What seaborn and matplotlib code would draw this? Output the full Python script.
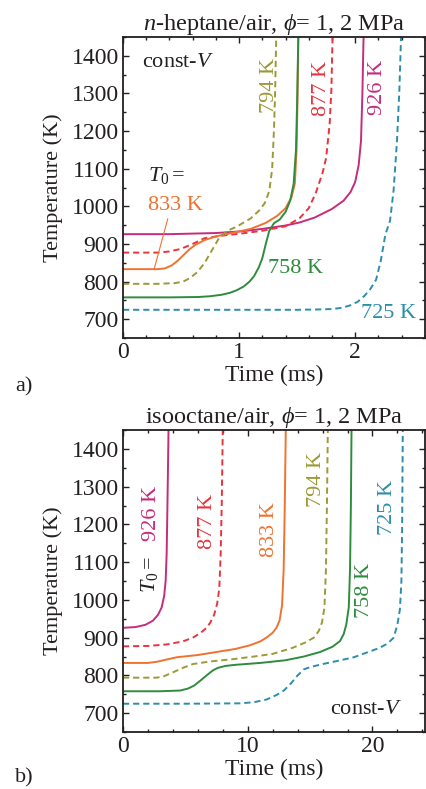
import numpy as np
import pandas as pd
import matplotlib
matplotlib.use("Agg")
import matplotlib.pyplot as plt
from matplotlib.ticker import MultipleLocator
import seaborn as sns

# ---------------- data: panel a, n-heptane/air ----------------
a_t926 = [0, 0.4, 0.8, 1.0, 1.2, 1.4, 1.52, 1.65, 1.8, 1.9, 1.96, 2.0, 2.03, 2.05, 2.062, 2.072]
a_T926 = [926, 926, 929, 933, 940, 949, 957, 970, 993, 1015, 1038, 1065, 1110, 1174, 1300, 1450]

a_t877 = [0, 0.3, 0.4, 0.5, 0.6, 0.7, 0.85, 1.0, 1.2, 1.4, 1.52, 1.6, 1.66, 1.72, 1.75, 1.78, 1.795, 1.805]
a_T877 = [877, 877, 880, 887, 900, 915, 922, 927, 935, 947, 968, 995, 1035, 1090, 1129, 1219, 1310, 1450]

a_t833 = [0, 0.3, 0.36, 0.42, 0.47, 0.52, 0.57, 0.62, 0.7, 0.8, 0.95, 1.1, 1.23, 1.33, 1.4, 1.45, 1.48, 1.495, 1.503, 1.51]
a_T833 = [833, 833, 835, 843, 855, 870, 885, 897, 910, 920, 930, 940, 956, 975, 995, 1023, 1060, 1150, 1280, 1450]

a_t794 = [0, 0.3, 0.45, 0.52, 0.58, 0.64, 0.7, 0.76, 0.83, 0.9, 0.98, 1.1, 1.17, 1.22, 1.26, 1.285, 1.3, 1.31, 1.32]
a_T794 = [794, 794, 796, 800, 810, 825, 848, 880, 917, 935, 946, 968, 988, 1008, 1040, 1100, 1200, 1300, 1450]

a_t758 = [0, 0.4, 0.65, 0.75, 0.85, 0.92, 0.98, 1.04, 1.09, 1.13, 1.17, 1.2, 1.23, 1.26, 1.3, 1.35, 1.4, 1.44, 1.47, 1.49, 1.5, 1.51]
a_T758 = [758, 758, 759, 761, 765, 770, 777, 787, 800, 815, 838, 862, 900, 935, 955, 965, 985, 1015, 1060, 1150, 1280, 1450]

a_t725 = [0, 0.5, 1.0, 1.5, 1.7, 1.8, 1.88, 1.95, 2.02, 2.08, 2.13, 2.18, 2.22, 2.26, 2.3, 2.33, 2.36, 2.38, 2.395]
a_T725 = [725, 725, 725, 725, 726, 727, 730, 736, 746, 762, 780, 805, 855, 925, 962, 1040, 1174, 1307, 1450]

# ---------------- data: panel b, isooctane/air ----------------
b_t926 = [0, 1.0, 1.8, 2.4, 2.8, 3.1, 3.3, 3.42, 3.5, 3.55, 3.6, 3.65]
b_T926 = [926, 928, 934, 945, 960, 980, 1010, 1050, 1120, 1220, 1330, 1450]

b_t877 = [0, 2.0, 3.5, 4.8, 5.6, 6.2, 6.7, 7.0, 7.3, 7.55, 7.72, 7.83, 7.92, 8.0]
b_T877 = [877, 878, 882, 890, 900, 912, 926, 940, 960, 990, 1030, 1120, 1260, 1450]

b_t833 = [0, 2.0, 2.7, 3.5, 4.3, 6.0, 7.5, 9.0, 10.2, 11.0, 11.5, 12.0, 12.3, 12.55, 12.75, 12.88, 12.97, 13.05]
b_T833 = [833, 833, 836, 842, 848, 854, 862, 870, 880, 890, 900, 913, 926, 945, 985, 1080, 1250, 1450]

b_t794 = [0, 2.7, 3.3, 4.0, 4.8, 5.6, 7.0, 8.8, 10.5, 12.0, 13.6, 14.6, 15.3, 15.7, 15.95, 16.15, 16.27, 16.35, 16.42]
b_T794 = [794, 794, 798, 808, 820, 830, 837, 843, 850, 857, 873, 887, 900, 918, 940, 980, 1080, 1250, 1450]

b_t758 = [0, 3.0, 4.6, 5.2, 5.7, 6.2, 6.7, 7.2, 7.6, 8.2, 9.0, 11.0, 13.0, 14.5, 15.8, 16.8, 17.4, 17.7, 17.9, 18.1, 18.2, 18.27, 18.32]
b_T758 = [758, 758, 760, 765, 773, 786, 800, 813, 820, 825, 828, 833, 840, 850, 862, 876, 891, 910, 935, 980, 1080, 1250, 1450]

b_t725 = [0, 5, 9.4, 10.5, 11.5, 12.3, 12.9, 13.5, 14.0, 14.5, 15.0, 16.0, 17.0, 18.5, 19.5, 20.5, 21.2, 21.7, 22.0, 22.2, 22.32, 22.38, 22.43]
b_T725 = [725, 725, 726, 729, 736, 748, 760, 780, 800, 816, 822, 830, 837, 848, 860, 872, 884, 900, 935, 975, 1050, 1200, 1450]

T0_labels = ["926 K", "877 K", "833 K", "794 K", "758 K", "725 K"]
colors = ["#C62B7C", "#E8343E", "#F0722F", "#9C9A36", "#2F8C3E", "#2C8EAA"]
dashed = [False, True, False, True, False, True]

panel_a = [(a_t926, a_T926), (a_t877, a_T877), (a_t833, a_T833),
           (a_t794, a_T794), (a_t758, a_T758), (a_t725, a_T725)]
panel_b = [(b_t926, b_T926), (b_t877, b_T877), (b_t833, b_T833),
           (b_t794, b_T794), (b_t758, b_T758), (b_t725, b_T725)]

# ---------------- style ----------------
sns.set_theme(style="ticks")
plt.rcParams["font.family"] = ["Liberation Serif", "DejaVu Serif"]
plt.rcParams["mathtext.fontset"] = "custom"
plt.rcParams["mathtext.rm"] = "Liberation Serif"
plt.rcParams["mathtext.it"] = "Liberation Serif:italic"
plt.rcParams["mathtext.bf"] = "Liberation Serif:bold"
plt.rcParams["text.color"] = "#231F20"
plt.rcParams["axes.labelcolor"] = "#231F20"

FS = 16        # annotations
FS_TICK = 17
FS_TITLE = 17.5

fig = plt.figure(figsize=(4.27, 7.89), dpi=100)
ax_a = fig.add_axes([0.288, 0.5716, 0.707, 0.3815])
ax_b = fig.add_axes([0.288, 0.0722, 0.707, 0.3828])


def draw_curves(ax, curves):
    for (t, T), lab, c, d in zip(curves, T0_labels, colors, dashed):
        df = pd.DataFrame({"t": t, "T": T})
        sns.lineplot(data=df, x="t", y="T", ax=ax, color=c, lw=1.4,
                     estimator=None, sort=False,
                     linestyle=(0, (3.2, 2.0)) if d else "-")


def style_axes(ax, xmax, xmajor, xminor):
    ax.set_xlim(0, xmax)
    ax.set_ylim(650, 1450)
    ax.xaxis.set_major_locator(MultipleLocator(xmajor))
    ax.xaxis.set_minor_locator(MultipleLocator(xminor))
    ax.yaxis.set_major_locator(MultipleLocator(100))
    ax.yaxis.set_minor_locator(MultipleLocator(50))
    ax.tick_params(which="both", direction="in", top=True, right=True,
                   color="#231F20", width=1.0, labelsize=FS_TICK, labelcolor="#231F20", pad=3)
    ax.tick_params(which="major", length=4.5)
    ax.tick_params(which="minor", length=2.5)
    for s in ax.spines.values():
        s.set_visible(True)
        s.set_linewidth(1.3)
        s.set_color("#231F20")
    ax.set_xlabel("Time (ms)", fontsize=FS_TICK, labelpad=1)
    ax.set_ylabel("Temperature (K)", fontsize=FS, labelpad=6)


# ---------------- panel a ----------------
draw_curves(ax_a, panel_a)
style_axes(ax_a, 2.6, 1, 0.2)
ax_a.set_title(r"$n$-heptane/air, $\phi$= 1, 2 MPa", fontsize=FS_TITLE, pad=5)

ax_a.text(0.476, 1382, r"const-$V$", fontsize=FS, ha="center", va="center")
ax_a.text(1.262, 1320, "794 K", color=colors[3], fontsize=FS, rotation=90, ha="center", va="center")
ax_a.text(1.708, 1312, "877 K", color=colors[1], fontsize=FS, rotation=90, ha="center", va="center")
ax_a.text(2.19, 1315, "926 K", color=colors[0], fontsize=FS, rotation=90, ha="center", va="center")
ax_a.text(0.215, 1081, r"$T_0 =$", fontsize=FS, ha="left", va="center")
ax_a.text(0.215, 1001, "833 K", color=colors[2], fontsize=FS, ha="left", va="center")
ax_a.plot([0.386, 0.27], [967, 835], color=colors[2], lw=0.8)
ax_a.text(1.245, 834, "758 K", color=colors[4], fontsize=FS, ha="left", va="center")
ax_a.text(2.05, 714, "725 K", color=colors[5], fontsize=FS, ha="left", va="center")

# ---------------- panel b ----------------
draw_curves(ax_b, panel_b)
style_axes(ax_b, 24.2, 10, 2)
ax_b.set_title(r"isooctane/air, $\phi$= 1, 2 MPa", fontsize=FS_TITLE, pad=5)

ax_b.text(2.16, 1069, r"$T_0 =$", fontsize=FS, rotation=90, ha="center", va="center")
ax_b.text(2.32, 1228, "926 K", color=colors[0], fontsize=FS, rotation=90, ha="center", va="center")
ax_b.text(6.8, 1207, "877 K", color=colors[1], fontsize=FS, rotation=90, ha="center", va="center")
ax_b.text(11.76, 1186, "833 K", color=colors[2], fontsize=FS, rotation=90, ha="center", va="center")
ax_b.text(15.52, 1319, "794 K", color=colors[3], fontsize=FS, rotation=90, ha="center", va="center")
ax_b.text(19.36, 1024, "758 K", color=colors[4], fontsize=FS, rotation=90, ha="center", va="center")
ax_b.text(21.2, 1244, "725 K", color=colors[5], fontsize=FS, rotation=90, ha="center", va="center")
ax_b.text(19.5, 710, r"const-$V$", fontsize=FS, ha="center", va="center")

fig.text(0.035, 0.5095, "a)", fontsize=FS, ha="left", va="center")
fig.text(0.035, 0.014, "b)", fontsize=FS, ha="left", va="center")

fig.savefig("out.png", dpi=100)
